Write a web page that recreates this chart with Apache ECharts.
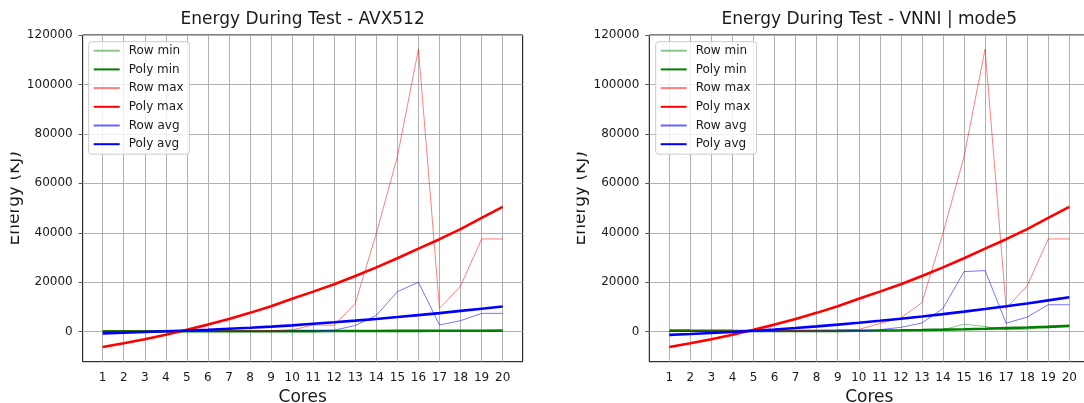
<!DOCTYPE html>
<html>
<head>
<meta charset="utf-8">
<title>Energy During Test</title>
<script src="https://cdn.jsdelivr.net/npm/echarts@6/dist/echarts.min.js"></script>
<style>
  html, body { margin: 0; padding: 0; background: #ffffff; }
  #chart { width: 1084px; height: 403px; }
</style>
</head>
<body>
<div id="chart"></div>
<script>
// Core counts and tick values
const cores = [1, 2, 3, 4, 5, 6, 7, 8, 9, 10, 11, 12, 13, 14, 15, 16, 17, 18, 19, 20];
const energyTicks = [0, 20000, 40000, 60000, 80000, 100000, 120000];
const seriesNames = ['Row min', 'Poly min', 'Row max', 'Poly max', 'Row avg', 'Poly avg'];
const titles = ['Energy During Test - AVX512', 'Energy During Test - VNNI | mode5'];

// AVX512 measurements (KJ) and polynomial fits
const avxRowMin  = [50, 60, 70, 80, 90, 100, 120, 140, 160, 180, 200, 220, 250, 280, 310, 340, 300, 350, 380, 400];
const avxPolyMin = [100, 110, 120, 130, 140, 150, 160, 175, 190, 205, 220, 240, 260, 280, 300, 320, 345, 370, 395, 420];
const avxRowMax  = [150, 180, 200, 230, 260, 300, 330, 370, 400, 700, 2700, 2600, 11500, 39800, 70800, 114300, 9400, 18500, 37500, 37500];
const avxPolyMax = [-6200, -4700, -3050, -1250, 750, 2850, 5150, 7600, 10300, 13300, 16200, 19200, 22500, 26000, 29700, 33600, 37400, 41500, 46000, 50500];
const avxRowAvg  = [40, 50, 60, 70, 80, 100, 120, 150, 180, 220, 270, 600, 2500, 6600, 16200, 20000, 2700, 4450, 7400, 7400];
const avxPolyAvg = [-700, -450, -150, 150, 450, 800, 1200, 1600, 2050, 2550, 3200, 3800, 4450, 5150, 5900, 6700, 7500, 8400, 9300, 10200];

// VNNI | mode5 measurements (KJ) and polynomial fits
const vnniRowMin  = [100, 120, 140, 160, 180, 200, 220, 250, 280, 320, 380, 450, 600, 800, 3000, 2100, 800, 950, 2300, 2300];
const vnniPolyMin = [500, 430, 370, 320, 285, 265, 260, 275, 310, 370, 450, 550, 680, 830, 1000, 1200, 1420, 1660, 1930, 2350];
const vnniRowMax  = [150, 200, 250, 300, 350, 400, 450, 550, 700, 900, 3300, 5600, 11700, 39800, 70800, 114300, 9400, 18600, 37500, 37500];
const vnniPolyMax = [-6200, -4700, -3050, -1250, 750, 2850, 5150, 7600, 10300, 13300, 16200, 19200, 22500, 26000, 29700, 33600, 37400, 41500, 46000, 50500];
const vnniRowAvg  = [60, 80, 100, 120, 140, 170, 200, 250, 300, 400, 800, 1750, 3500, 9400, 24300, 24700, 3400, 5900, 10900, 10900];
const vnniPolyAvg = [-1300, -950, -550, -150, 350, 900, 1500, 2150, 2850, 3600, 4400, 5250, 6150, 7100, 8100, 9150, 10250, 11400, 12650, 13900];

const FONT = 'DejaVu Sans';
const TEXT = '#1a1a1a';

const panels = [
  { left: 82.67, titleX: 302.67, legendX: 88.7,
    data: [avxRowMin, avxPolyMin, avxRowMax, avxPolyMax, avxRowAvg, avxPolyAvg] },
  { left: 649.3, titleX: 869.3, legendX: 655.7,
    data: [vnniRowMin, vnniPolyMin, vnniRowMax, vnniPolyMax, vnniRowAvg, vnniPolyAvg] }
];

// Line look for each of the six series (thin raw rows, thick fitted curves)
const styles = [
  { color: 'rgba(0,128,0,0.45)', width: 1 },
  { color: '#008000', width: 2.6 },
  { color: 'rgba(255,0,0,0.5)', width: 1 },
  { color: '#ff0000', width: 2.6 },
  { color: 'rgba(0,0,255,0.6)', width: 0.9 },
  { color: '#0000ff', width: 2.6 }
];

const grids = [], xAxes = [], yAxes = [], titleList = [], legends = [], series = [];

panels.forEach((p, k) => {
  grids.push({
    left: p.left, top: 35, width: 440, height: 326.7,
    outerBoundsMode: 'none', containLabel: false,
    show: true, borderColor: '#000000', borderWidth: 1
  });
  xAxes.push({
    type: 'value', gridIndex: k, min: 0.05, max: 20.95,
    name: 'Cores', nameLocation: 'middle', nameGap: 24,
    nameTextStyle: { fontFamily: FONT, fontSize: 17, color: TEXT },
    axisLine: { show: false },
    axisTick: { show: true, customValues: cores, length: 4, lineStyle: { color: '#a8a8a8' } },
    axisLabel: { customValues: cores, fontFamily: FONT, fontSize: 12, color: TEXT, margin: 10 },
    splitLine: { show: true, lineStyle: { color: '#b0b0b0', width: 1 } }
  });
  yAxes.push({
    type: 'value', gridIndex: k, min: -12150, max: 120000,
    name: 'Energy (KJ)', nameLocation: 'middle', nameGap: 60,
    nameTextStyle: { fontFamily: FONT, fontSize: 17, color: TEXT },
    axisLine: { show: false },
    axisTick: { show: true, customValues: energyTicks, length: 4, lineStyle: { color: '#555555' } },
    axisLabel: {
      customValues: energyTicks, fontFamily: FONT, fontSize: 12, color: TEXT, margin: 10,
      formatter: (v) => String(v)
    },
    splitLine: { show: true, lineStyle: { color: '#b0b0b0', width: 1 } }
  });
  titleList.push({
    text: titles[k], left: p.titleX, top: 11, textAlign: 'center', padding: 0,
    textStyle: { fontFamily: FONT, fontSize: 17, fontWeight: 'normal', color: TEXT }
  });
  legends.push({
    orient: 'vertical', left: p.legendX, top: 41.7,
    padding: [3, 6, 4, 4], itemGap: 6.7, itemWidth: 26, itemHeight: 12,
    backgroundColor: 'rgba(255,255,255,0.8)', borderColor: '#cccccc', borderWidth: 1, borderRadius: 3,
    selectedMode: false,
    // legend keys show only the line sample
    itemStyle: { color: 'rgba(0,0,0,0)', borderWidth: 0, opacity: 0 },
    textStyle: { fontFamily: FONT, fontSize: 12, color: TEXT, padding: [0, 0, 0, 4] },
    data: seriesNames
  });
  p.data.forEach((values, i) => {
    series.push({
      name: seriesNames[i], type: 'line', xAxisIndex: k, yAxisIndex: k,
      symbol: 'none', showSymbol: false, silent: true, clip: true,
      color: styles[i].color,
      lineStyle: { color: styles[i].color, width: styles[i].width },
      data: cores.map((c, j) => [c, values[j]])
    });
  });
});

const chart = echarts.init(document.getElementById('chart'), null, { renderer: 'canvas' });
chart.setOption({
  animation: false,
  backgroundColor: '#ffffff',
  title: titleList,
  legend: legends,
  grid: grids,
  xAxis: xAxes,
  yAxis: yAxes,
  series: series,
  // The y-axis captions sit partly under the page margin on each panel
  graphic: [
    { type: 'rect', z: 100, shape: { x: 0, y: 120, width: 10.5, height: 160 }, style: { fill: '#ffffff' } },
    { type: 'rect', z: 100, shape: { x: 540, y: 120, width: 36.7, height: 160 }, style: { fill: '#ffffff' } }
  ]
});
</script>
</body>
</html>
